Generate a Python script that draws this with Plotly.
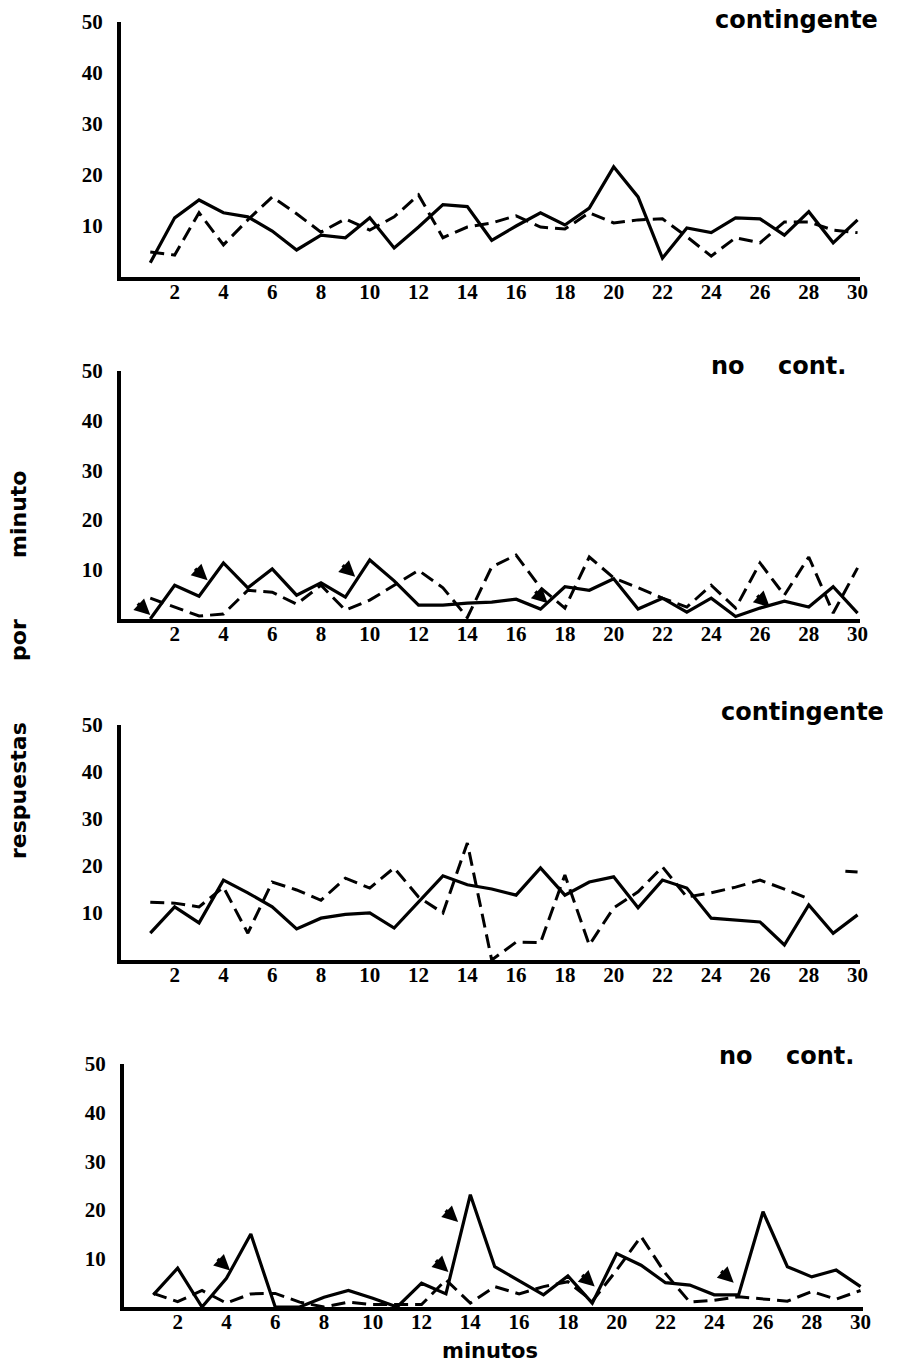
import plotly.graph_objects as go

W, H = 898, 1363

minutes = list(range(1, 31))
x_ticks = list(range(2, 31, 2))
y_ticks = [10, 20, 30, 40, 50]
y_tick_text = ["10", "20", "30", "40", "50"]

# Panel 1: contingente
p1_solid = [2.8, 11.6, 15.1, 12.6, 11.8, 9.0, 5.3, 8.2, 7.7, 11.6, 5.7, 9.8, 14.2, 13.8, 7.2,
            10.0, 12.6, 10.2, 13.5, 21.6, 15.7, 3.7, 9.6, 8.7, 11.6, 11.4, 8.2, 12.8, 6.7, 11.2]
p1_dash = [4.9, 4.3, 12.6, 6.3, 11.2, 15.7, 12.4, 8.8, 11.4, 9.2, 11.8, 16.1, 7.7, 9.8, 10.6,
           12.0, 9.8, 9.4, 12.6, 10.6, 11.2, 11.4, 7.9, 4.1, 7.7, 6.7, 10.8, 10.8, 9.2, 8.7]

# Panel 2: no cont.
p2_solid = [0.0, 6.8, 4.6, 11.3, 6.3, 10.1, 4.8, 7.3, 4.4, 11.9, 7.7, 2.8, 2.8, 3.2, 3.4,
            4.0, 2.0, 6.5, 5.8, 8.1, 2.0, 4.2, 1.4, 4.2, 0.5, 2.2, 3.6, 2.4, 6.5, 1.2]
p2_dash = [4.2, 2.4, 0.6, 1.0, 5.8, 5.4, 3.0, 6.8, 1.8, 3.8, 6.8, 9.8, 6.3, 0.3, 10.5,
           12.9, 6.3, 2.2, 12.5, 8.3, 6.3, 4.2, 2.4, 6.8, 2.2, 11.3, 4.8, 12.5, 1.2, 10.3]
p2_arrow_x = [1.0, 3.35, 9.4, 17.3, 26.4]
p2_arrow_y = [0.8, 7.8, 8.5, 3.2, 2.4]

# Panel 3: contingente
p3_solid = [5.7, 11.3, 7.9, 17.0, 14.3, 11.3, 6.6, 8.9, 9.7, 10.0, 6.8, 12.3, 17.9, 16.0, 15.1,
            13.8, 19.6, 13.8, 16.6, 17.7, 11.1, 17.0, 15.3, 8.9, 8.5, 8.1, 3.2, 11.7, 5.7, 9.6]
p3_dash = [12.3, 12.1, 11.3, 15.5, 5.7, 16.6, 14.9, 12.7, 17.4, 15.3, 19.6, 13.4, 10.0, 24.9, 0.0,
           3.8, 3.7, 18.1, 3.2, 11.1, 14.5, 19.8, 13.4, 14.3, 15.5, 17.0, 15.1, 13.0, None, None]
p3_dash_end_x = [29.5, 30]
p3_dash_end_y = [18.9, 18.7]

# Panel 4: no cont.
p4_solid = [2.5, 8.0, 0.0, 5.9, 15.0, 0.0, 0.0, 2.0, 3.4, 1.8, 0.0, 4.9, 2.7, 23.1, 8.3,
            5.4, 2.5, 6.4, 0.8, 11.0, 8.6, 5.0, 4.5, 2.5, 2.5, 19.6, 8.3, 6.2, 7.6, 4.2]
p4_dash = [2.8, 1.1, 3.4, 0.8, 2.7, 2.8, 1.0, 0.0, 1.0, 0.5, 0.5, 0.5, 5.6, 0.8, 4.2,
           2.7, 4.2, 5.2, 1.2, 7.6, 14.5, 6.9, 1.0, 1.4, 2.1, 1.6, 1.2, 3.2, 1.6, 3.4]
p4_arrow_x = [4.15, 13.5, 13.1, 19.1, 24.8]
p4_arrow_y = [7.5, 17.5, 7.2, 4.2, 5.0]

panel_titles = ["contingente", "no\u00a0\u00a0\u00a0\u00a0cont.", "contingente", "no\u00a0\u00a0\u00a0\u00a0cont."]

# pixel layout of each panel: (left, right, top(=50), bottom(=0))
panels_px = [(121, 860, 22, 277), (121, 860, 371, 619), (121, 860, 725, 960), (124, 863, 1064, 1307)]
title_px = [(796, 20), (778, 366), (802, 712), (786, 1056)]

fig = go.Figure()
tick_font = dict(family="Liberation Serif", size=21, color="black", weight="bold")
series = [(p1_solid, p1_dash), (p2_solid, p2_dash), (p3_solid, p3_dash), (p4_solid, p4_dash)]

layout = dict(width=W, height=H, margin=dict(l=0, r=0, t=0, b=0, autoexpand=False),
              paper_bgcolor="white", plot_bgcolor="white", showlegend=False)
annotations = []

for i, ((sol, das), (l, r, t, b)) in enumerate(zip(series, panels_px)):
    n = "" if i == 0 else str(i + 1)
    xa, ya = "x" + n, "y" + n
    fig.add_trace(go.Scatter(x=minutes, y=das, mode="lines", xaxis=xa, yaxis=ya,
                             line=dict(color="black", width=3, dash="14px,7px"),
                             connectgaps=False))
    fig.add_trace(go.Scatter(x=minutes, y=sol, mode="lines", xaxis=xa, yaxis=ya,
                             line=dict(color="black", width=3.2)))
    layout["xaxis" + n] = dict(domain=[l / W, r / W], range=[-0.2, 30.1], anchor=ya,
                               tickvals=x_ticks, ticktext=[str(v) for v in x_ticks],
                               showgrid=False, zeroline=False, showline=True,
                               linecolor="black", linewidth=4, ticks="", automargin=False,
                               tickfont=tick_font, ticklabelstandoff=-7)
    layout["yaxis" + n] = dict(domain=[1 - b / H, 1 - t / H], range=[0, 50], anchor=xa,
                               tickvals=y_ticks, ticktext=y_tick_text,
                               showgrid=False, zeroline=False, showline=True,
                               linecolor="black", linewidth=4, ticks="", automargin=False,
                               tickfont=tick_font, ticklabelstandoff=10)
    tx, ty = title_px[i]
    annotations.append(dict(text=panel_titles[i], x=tx / W, y=1 - ty / H, xref="paper", yref="paper",
                            showarrow=False, xanchor="center", yanchor="middle",
                            font=dict(family="DejaVu Sans", size=24, color="black", weight="bold")))

fig.add_trace(go.Scatter(x=p3_dash_end_x, y=p3_dash_end_y, mode="lines", xaxis="x3", yaxis="y3",
                         line=dict(color="black", width=3)))

for ax_x, ax_y, xa, ya in [(p2_arrow_x, p2_arrow_y, "x2", "y2"), (p4_arrow_x, p4_arrow_y, "x4", "y4")]:
    for xv, yv in zip(ax_x, ax_y):
        annotations.append(dict(x=xv, y=yv, xref=xa, yref=ya, text="", showarrow=True,
                                arrowhead=2, arrowsize=0.9, arrowwidth=3.5, arrowcolor="black",
                                ax=-14, ay=-13))

sp = "\u00a0" * 8
annotations.append(dict(text="respuestas" + sp + "por" + sp + "minuto",
                        x=18 / W, y=1 - 665 / H, xref="paper", yref="paper", textangle=-90,
                        showarrow=False, xanchor="center", yanchor="middle",
                        font=dict(family="DejaVu Sans", size=22, color="black", weight="bold")))
annotations.append(dict(text="minutos", x=490 / W, y=1 - 1351 / H, xref="paper", yref="paper",
                        showarrow=False, xanchor="center", yanchor="middle",
                        font=dict(family="DejaVu Sans", size=21, color="black", weight="bold")))

layout["annotations"] = annotations
fig.update_layout(**layout)
fig.write_html("out.html")
